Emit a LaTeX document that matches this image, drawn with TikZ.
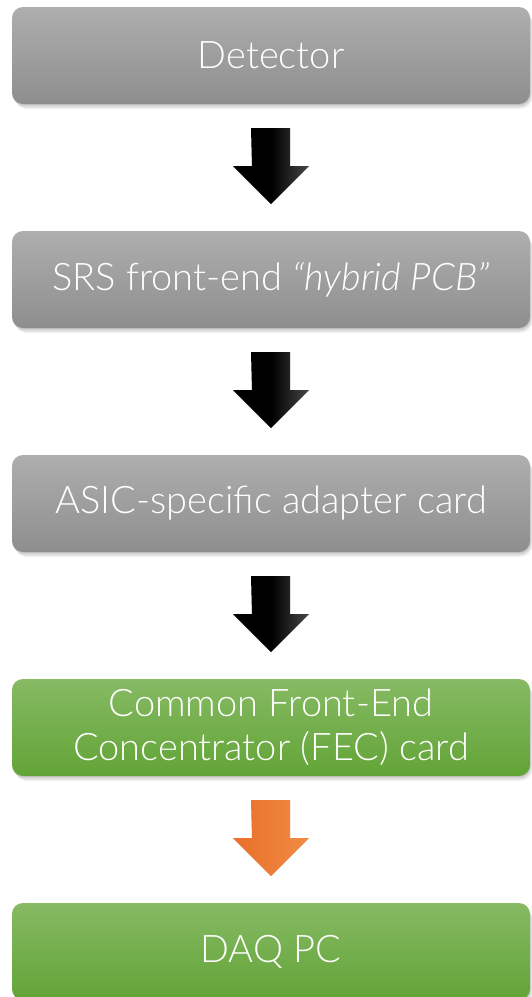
\documentclass[tikz,border=0pt]{standalone}
\usepackage{fontspec}
\setmainfont{Lato}[UprightFont={* Light},ItalicFont={* Light Italic}]
\usetikzlibrary{calc}
\definecolor{gtop}{HTML}{AEAEAE}
\definecolor{gbot}{HTML}{8E8E8E}
\definecolor{ntop}{HTML}{86BA64}
\definecolor{nbot}{HTML}{62A436}
\definecolor{otop}{HTML}{E8702A}
\definecolor{obot}{HTML}{F28C45}
\tikzset{
  box/.style={rounded corners=11pt, minimum width=518pt, minimum height=97pt,
    inner sep=0pt, text=white, align=center,
    font=\fontsize{38}{44}\selectfont},
  greybox/.style={box, top color=gtop, bottom color=gbot},
  greenbox/.style={box, top color=ntop, bottom color=nbot},
  blkfill/.style={left color=black, right color=black!72, middle color=black},
  orfill/.style={left color=otop, right color=obot, middle color=otop!55!obot},
  shade1/.style={fill=black, opacity=0.06, rounded corners=12pt},
  ashade/.style={fill=black, opacity=0.08},
}
% block arrow below node #1, drawn with style #2
\newcommand{\blockarrow}[2]{%
  \path[#2] ($(#1.south)+(-20,24)$) -- ++(39,0) -- ++(0,38) -- ++(19,0)
     -- ++(-38,38) -- ++(-38,-38) -- ++(19,0) -- cycle;}
\begin{document}
\begin{tikzpicture}[x=1pt,y=-1pt]
\useasboundingbox (0,0) rectangle (531,997);
\fill[white] (0,0) rectangle (531,997);
% soft shadows
\foreach \t in {7,231,455,679,903}{
  \foreach \d in {1,2,3,4}{
    \fill[shade1] (12+\d*0.6,\t+\d*1.2) rectangle (530+\d*0.6,\t+97+\d*1.2);
  }
}
\node[greybox] (b1) at (271,55.5) {Detector};
\node[greybox] (b2) at (271,279.5) {SRS front-end \textit{“hybrid PCB”}};
\node[greybox] (b3) at (271,503.5) {ASIC-specific adapter card};
\node[greenbox] (b4) at (271,727.5) {Common Front-End\\Concentrator (FEC) card};
\node[greenbox] (b5) at (271,951.5) {DAQ PC};
% arrow shadows
\foreach \a in {b1,b2,b3,b4}{
  \begin{scope}[shift={(0.6,1.5)}]\blockarrow{\a}{ashade}\end{scope}
  \begin{scope}[shift={(1.2,3)}]\blockarrow{\a}{ashade}\end{scope}
}
\blockarrow{b1}{blkfill}
\blockarrow{b2}{blkfill}
\blockarrow{b3}{blkfill}
\blockarrow{b4}{orfill}
\end{tikzpicture}
\end{document}
